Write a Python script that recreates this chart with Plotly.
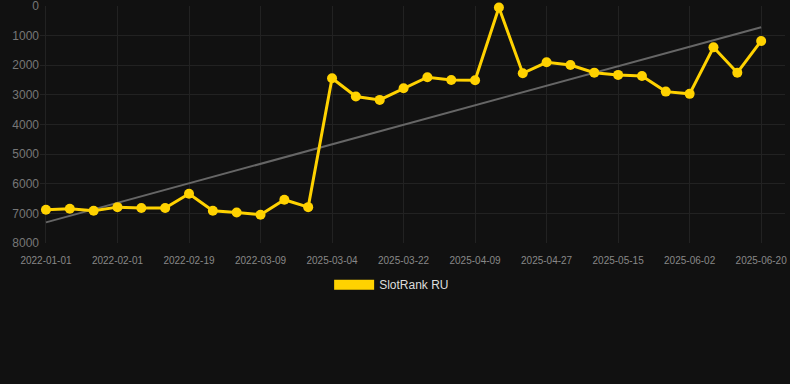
import numpy as np
import plotly.graph_objects as go

dates = ["2022-01-01", "2022-01-11", "2022-01-21", "2022-02-01", "2022-02-07", "2022-02-13",
         "2022-02-19", "2022-02-25", "2022-03-03", "2022-03-09", "2022-03-15", "2022-03-21",
         "2025-03-04", "2025-03-10", "2025-03-16", "2025-03-22", "2025-03-28", "2025-04-03",
         "2025-04-09", "2025-04-15", "2025-04-21", "2025-04-27", "2025-05-03", "2025-05-09",
         "2025-05-15", "2025-05-21", "2025-05-27", "2025-06-02", "2025-06-08", "2025-06-14",
         "2025-06-20"]
ranks = [6880, 6845, 6910, 6790, 6820, 6820, 6340, 6910, 6970, 7045, 6540, 6790,
         2440, 3055, 3170, 2775, 2405, 2495, 2505, 50, 2270, 1900, 1990, 2250,
         2325, 2360, 2890, 2965, 1395, 2250, 1180]
tick_labels = ["2022-01-01", "2022-02-01", "2022-02-19", "2022-03-09", "2025-03-04", "2025-03-22",
               "2025-04-09", "2025-04-27", "2025-05-15", "2025-06-02", "2025-06-20"]
y_ticks = [0, 1000, 2000, 3000, 4000, 5000, 6000, 7000, 8000]

idx = np.arange(len(ranks))
slope, intercept = np.polyfit(idx, ranks, 1)
trend = slope * idx + intercept

gold = "#FFD200"
fig = go.Figure()
fig.add_trace(go.Scatter(x=dates, y=trend, mode="lines", line=dict(color="#666666", width=2),
                         showlegend=False, hoverinfo="skip"))
fig.add_trace(go.Scatter(x=dates, y=ranks, mode="lines+markers", name="SlotRank RU",
                         line=dict(color=gold, width=3), marker=dict(color=gold, size=10),
                         showlegend=False, cliponaxis=False))
fig.add_trace(go.Scatter(x=[None], y=[None], mode="lines", name="SlotRank RU",
                         line=dict(color=gold, width=11)))

fig.update_layout(
    width=790, height=384,
    paper_bgcolor="#111111", plot_bgcolor="#111111",
    margin=dict(l=40, r=5, t=6, b=141),
    font=dict(family="Liberation Sans, Arial, sans-serif", color="#888888"),
    showlegend=True,
    legend=dict(orientation="h", x=0.472, xanchor="center", y=-0.115, yanchor="top",
                font=dict(size=12, color="#dddddd"), itemwidth=40),
    xaxis=dict(type="category", categoryorder="array", categoryarray=dates,
               tickmode="array", tickvals=tick_labels, ticktext=tick_labels,
               range=[-0.25, 31.0], showgrid=True, gridcolor="#222222", gridwidth=1,
               zeroline=False, showline=False, tickfont=dict(size=10, color="#888888"),
               ticks="", tickangle=0, ticklabelstandoff=10, ticklabeloverflow="allow",
               automargin=False),
    yaxis=dict(range=[8000.5, -0.5], tickmode="array", tickvals=y_ticks,
               ticktext=[str(v) for v in y_ticks], ticklabeloverflow="allow",
               automargin=False,
               showgrid=True, gridcolor="#222222", gridwidth=1, zeroline=False,
               showline=False, tickfont=dict(size=12, color="#777777"), ticks=""),
)
fig.write_html("out.html")
